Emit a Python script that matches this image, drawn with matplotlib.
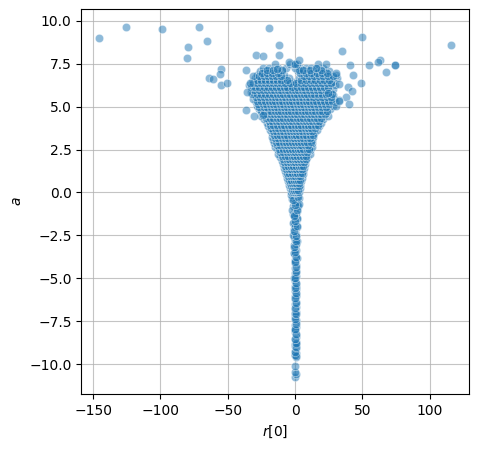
import matplotlib
matplotlib.use("Agg")
import matplotlib.pyplot as plt
import numpy as np

# ---- data ----
# sparse outliers
out_x = [-145.4, -125.3, -98.6, -71.1, -65.2, -79.5, -80.2, -19.1, -11.7, 50.0, 116.1,
         34.9, -28.7, -23.5, -12.1, -13.1, -4.2, -0.2, 2.7, 15.4, 43.3, 55.2, 63.2,
         74.5, 74.0, 67.9, 49.3, 39.4, 42.6, 37.9, 40.1, 30.7, 32.9, -55.0, -55.5,
         -63.9, -60.7, -54.8, -50.3, -36.2, -35.4, -36.2, -30.2, -23.8, -33.4, 40.9,
         30.5, 32.7, 24.8, 32.7, 61.4]
out_y = [8.98, 9.62, 9.50, 9.62, 8.80, 8.45, 7.81, 9.56, 8.57, 9.03, 8.57,
         8.22, 7.99, 7.95, 7.99, 7.17, 7.61, 7.48, 7.69, 7.23, 6.82, 7.40, 7.71,
         7.40, 7.42, 7.00, 6.37, 6.12, 5.91, 5.58, 5.13, 5.02, 5.38, 7.19, 6.90,
         6.65, 6.62, 6.24, 6.37, 7.11, 5.83, 4.78, 4.43, 4.51, 6.35, 7.42,
         6.94, 6.33, 5.77, 5.33, 7.60]

# the narrow stem below zero
stem_y = [-10.72, -10.58, -10.45, -10.10, -9.60, -9.46, -9.35, -9.20, -9.05, -8.95,
          -8.82, -8.68, -8.55, -8.43, -8.30, -8.15, -8.00, -7.85, -7.70, -7.55,
          -7.40, -7.25, -7.10, -6.95, -6.80, -6.65, -6.50, -6.35, -6.20, -6.05,
          -5.90, -5.75, -5.60, -5.45, -5.30, -5.15, -5.00, -4.85, -4.70, -4.55,
          -4.40, -4.25, -4.10, -3.95, -3.80, -3.65, -3.50, -3.35, -3.20, -3.05,
          -2.90, -2.75, -2.60, -2.45, -2.30, -2.15, -2.00, -1.85, -1.70, -1.55,
          -1.40, -1.25, -1.10, -0.95, -0.80, -0.65, -0.50, -0.35, -0.20,
          -1.80, -1.50, -1.00, -0.80, -0.40, -0.30, -2.50, -2.80, -3.50, -3.80,
          -5.00, -5.50, -8.00, -8.82, -9.46, -7.00, -6.00, -4.00, -3.00, -2.00,
          -1.20, -0.60, -0.10, -0.15, -0.70, -1.30,
          -9.52, -9.28, -9.00, -8.75, -8.50, -8.25, -7.95, -7.65, -7.35, -7.05,
          -6.75, -6.45, -6.15, -5.85, -5.55, -5.25, -4.95, -4.65, -4.35, -4.05,
          -3.75, -3.45, -3.15, -2.85, -2.55, -2.25, -1.95, -1.65, -1.35, -1.05,
          -0.75, -0.45, -0.25, -0.05]
stem_x = [0.3, 0.4, 0.3, 0.2, 0.4, 0.3, 0.6, 0.1, 0.5, 0.3,
          0.2, 0.5, 0.0, 0.4, 0.6, 0.2, 0.3, 0.5, 0.1, 0.4,
          0.6, 0.2, 0.3, 0.5, 0.0, 0.4, 0.2, 0.6, 0.3, 0.1,
          0.5, 0.2, 0.4, 0.0, 0.6, 0.3, 0.2, 0.5, 0.1, 0.4,
          -0.2, 0.7, 0.3, -0.3, 0.8, 0.1, -0.4, 0.9, 0.2, -0.5,
          1.0, 0.0, -0.6, 1.1, 0.2, -0.8, 1.2, 0.0, -1.0, 1.3,
          0.3, -1.2, 1.5, -0.2, -1.4, 1.6, 0.4, -1.6, 1.8,
          -1.5, 1.8, -2.0, 2.2, -2.5, 2.6, -1.2, 1.4, -1.0, 1.2,
          -0.8, 1.0, 0.3, 0.4, 0.3, 0.3, 0.4, 0.2, 0.5, 0.3,
          0.5, -0.3, 0.6, -2.8, 2.9, -0.5,
          0.6, 0.1, 0.4, 0.7, 0.2, 0.5, 0.0, 0.6, 0.3, 0.8,
          0.2, 0.5, -0.1, 0.7, 0.3, 0.6, 0.0, 0.8, 0.4, -0.3,
          1.0, 0.2, -0.7, 1.1, 0.4, -0.9, 1.3, 0.1, -1.1, 1.5,
          0.2, -1.5, 1.9, 0.0]

# the dense funnel above zero: one row of x values per level of a
core_levels = [0.05, 0.25, 0.45, 0.65, 0.85, 1.05, 1.25, 1.45, 1.65, 1.85,
               2.05, 2.25, 2.45, 2.65, 2.85, 3.05, 3.25, 3.45, 3.65, 3.85,
               4.05, 4.25, 4.45, 4.65, 4.85, 5.05, 5.25, 5.45, 5.65, 5.85,
               6.05, 6.25, 6.45, 6.65, 6.85, 7.05, 7.25, 7.45]
core_rows = [
    [-3, -1.5, 0, 1.2, 2.8],
    [-3.8, -2, -0.5, 1, 2.5, 4],
    [-4.5, -2.8, -1, 0.5, 2, 3.8],
    [-5.5, -3.5, -1.8, 0, 1.5, 3, 4.8],
    [-6, -4, -2.2, -0.5, 1.2, 2.8, 5],
    [-7, -5, -3, -1, 0.8, 2.5, 4.3, 5.8],
    [-7.5, -5.5, -3.5, -1.5, 0.5, 2.2, 4, 6],
    [-8.2, -6, -4, -2, 0, 2, 4, 6.5],
    [-8.8, -6.5, -4.5, -2.5, -0.5, 1.5, 3.5, 5.5, 7.2],
    [-9.5, -7, -5, -3, -1, 1, 3, 5, 7.5],
    [-11, -8.5, -6, -4, -2, 0, 2, 4, 6.5, 9],
    [-12.5, -10, -7.5, -5, -3, -1, 1, 3, 5.5, 8, 10.8],
    [-13, -10.5, -8, -5.5, -3.5, -1.5, 0.5, 2.5, 4.5, 7, 9.5, 11.5],
    [-14.9, -12, -9.5, -7, -4.5, -2.5, -0.5, 1.5, 3.5, 6, 8.5, 11, 12.3],
    [-15.5, -13, -10.5, -8, -5.5, -3, -1, 1, 3, 5.5, 8, 10.5, 12.4],
    [-16, -13.5, -11, -8.5, -6, -3.5, -1.5, 0.5, 2.5, 5, 7.5, 10, 12.8],
    [-17, -14.5, -12, -9, -6.5, -4, -2, 0, 2, 4.5, 7, 9.5, 12, 13.5],
    [-17.3, -15, -12.5, -10, -7.5, -5, -2.5, 0, 2.5, 5, 7.5, 10, 12.5, 14],
    [-18.5, -16, -13.5, -11, -8.5, -6, -3.5, -1, 1.5, 4, 6.5, 9, 11.5, 14, 16],
    [-19.8, -17, -14.5, -12, -9.5, -7, -4.5, -2, 0.5, 3, 5.5, 8, 10.5, 13, 15.5, 18],
    [-21, -18.5, -16, -13.5, -11, -8.5, -6, -3.5, -1, 1.5, 4, 6.5, 9, 11.5, 14, 16.5, 19],
    [-23, -20, -17.5, -15, -12.5, -10, -7.5, -5, -2.5, 0, 2.5, 5, 7.5, 10, 12.5, 15, 18, 21],
    [-25.5, -22.5, -20, -17.5, -15, -12.5, -10, -7.5, -5, -2.5, 0, 2.5, 5, 7.5, 10,
     12.5, 15, 17.5, 20.5, 24.8],
    [-24.5, -22, -19.5, -17, -14.5, -12, -9, -6.5, -4, -1.5, 1, 3.5, 6, 8.5, 11,
     13.5, 16, 18.5, 21, 23],
    [-27, -24, -21, -18.5, -16, -13.5, -11, -8.5, -6, -3.5, -1, 1.5, 4, 6.5, 9,
     11.5, 14, 16.5, 19, 22, 26],
    [-28.5, -25.5, -22.5, -20, -17.5, -15, -12.5, -10, -7.5, -5, -2.5, 0, 2.5, 5,
     7.5, 10, 12.5, 15, 18, 21, 24, 28],
    [-29, -26, -23, -20.5, -18, -15.5, -13, -10.5, -8, -5.5, -3, -0.5, 2, 4.5, 7,
     9.5, 12, 14.5, 17, 20, 23, 26, 30],
    [-31, -27.5, -24.5, -21.5, -19, -16.5, -14, -11.5, -9, -6.5, -4, -1.5, 1, 3.5,
     6, 8.5, 11, 13.5, 16, 19, 22, 25.5, 29],
    [-30, -27, -24, -21, -18, -15.5, -13, -10.5, -8, -5.5, -3, -0.5, 2, 4.5, 7,
     9.5, 12.5, 15.5, 18.5, 22, 24.8, 28],
    [-33, -29, -26, -23, -20, -17, -14, -11.5, -9, -6.5, -4, -1.5, 1, 3.5, 6, 9,
     12, 15, 18, 21, 26],
    [-31.5, -28, -25, -22, -19, -16, -13, -10, -7.5, -5, -2.5, 0, 2.5, 5, 8, 11,
     14, 17, 20, 23.5, 28],
    [-34, -30, -27, -24, -21, -18, -15, -12, -9, -6, -3, 0.5, 3.5, 6.5, 10, 13,
     16, 19, 22.5, 26, 30],
    [-32, -29, -26, -23, -20, -17, -14, -11, -8, -5, -1.5, 2, 5, 8, 11.5, 15, 18,
     21, 24, 28],
    [-30, -27, -24, -21, -18, -15, -12, -8.5, -4.5, 3, 6.5, 10, 13.5, 17, 20,
     23.5, 27, 31],
    [-28, -25, -22, -19, -16, -12.5, -8, 5, 8.5, 12, 15.5, 19, 22, 26, 30.5],
    [-26, -22, -18.5, -15, -10, 2, 6.5, 10, 14, 18, 22, 25],
    [-24, -19, -13, -7, 0, 4, 8, 12, 16, 21],
    [-14.6, -4, -1, 1.5, 17.1, 22.8],
]

# second, offset layer of the funnel (makes the core denser and less regular)
core2_levels = [0.15, 0.35, 0.55, 0.75, 0.95, 1.15, 1.35, 1.55, 1.75, 1.95,
                2.15, 2.35, 2.55, 2.75, 2.95, 3.15, 3.35, 3.55, 3.75, 3.95,
                4.15, 4.35, 4.55, 4.75, 4.95, 5.15, 5.35, 5.55, 5.75, 5.95,
                6.15, 6.35, 6.55, 6.75, 6.95, 7.15]
core2_rows = [
    [-2.3, -0.7, 0.6, 2.1],
    [-3.1, -1.2, 0.2, 1.7, 3.3],
    [-3.9, -2.1, -0.4, 1.1, 2.6],
    [-4.6, -2.7, -1.1, 0.7, 2.2, 3.9],
    [-5.2, -3.3, -1.6, 0.1, 1.9, 3.6],
    [-6.1, -4.2, -2.3, -0.2, 1.6, 3.4, 5.1],
    [-6.6, -4.7, -2.8, -0.9, 1.1, 3.1, 4.9],
    [-7.3, -5.1, -3.2, -1.2, 0.9, 2.8, 4.7, 6.1],
    [-7.9, -5.7, -3.6, -1.7, 0.3, 2.4, 4.3, 6.4],
    [-8.7, -6.3, -4.1, -2.2, -0.3, 1.8, 3.9, 6.0, 8.1],
    [-9.6, -7.1, -4.9, -2.6, -0.6, 1.4, 3.6, 5.9, 8.4],
    [-11.2, -8.6, -6.2, -3.9, -1.8, 0.3, 2.2, 4.1, 6.6, 9.1],
    [-11.8, -9.1, -6.6, -4.4, -2.1, 0.1, 2.1, 4.0, 6.3, 8.7, 10.6],
    [-13.6, -10.9, -8.3, -6.1, -3.7, -1.6, 0.6, 2.6, 4.8, 7.2, 9.9],
    [-14.2, -11.6, -9.2, -6.8, -4.3, -2.1, 0.2, 2.1, 4.2, 6.7, 9.1, 11.6],
    [-15.1, -12.3, -9.7, -7.2, -4.9, -2.6, -0.4, 1.6, 3.7, 6.1, 8.6, 11.2],
    [-15.8, -13.1, -10.8, -8.1, -5.6, -3.1, -0.9, 1.1, 3.3, 5.8, 8.2, 10.9, 13.1],
    [-16.4, -13.9, -11.4, -8.9, -6.3, -3.9, -1.7, 0.6, 2.9, 5.3, 7.9, 10.6, 12.9],
    [-17.6, -14.8, -12.3, -9.8, -7.1, -4.6, -2.3, 0.1, 2.4, 4.8, 7.3, 9.7, 12.2, 14.6],
    [-18.9, -16.2, -13.3, -10.7, -8.1, -5.3, -2.9, -0.3, 2.1, 4.6, 7.1, 9.6, 12.1,
     14.8, 17.1],
    [-19.7, -16.9, -14.2, -11.8, -9.2, -6.8, -4.2, -1.9, 0.6, 3.1, 5.6, 8.1, 10.4,
     12.9, 15.6, 17.8],
    [-21.6, -18.6, -16.1, -13.4, -11.1, -8.6, -6.1, -3.6, -1.2, 1.3, 3.8, 6.3, 8.8,
     11.3, 13.9, 16.6, 19.4],
    [-23.4, -20.8, -18.2, -15.9, -13.1, -10.8, -8.2, -5.8, -3.1, -0.6, 1.8, 4.2,
     6.8, 9.3, 11.8, 14.2, 16.9, 19.6, 22.1],
    [-25.6, -22.9, -20.1, -17.7, -15.2, -12.8, -10.2, -7.6, -5.1, -2.7, -0.2, 2.3,
     4.9, 7.4, 9.9, 12.4, 15.1, 17.6, 20.2, 24.1],
    [-26.4, -23.2, -20.7, -18.1, -15.8, -13.2, -10.7, -8.2, -5.7, -3.2, -0.6, 1.9,
     4.3, 6.8, 9.4, 11.9, 14.3, 16.9, 19.8, 23.1],
    [-27.3, -24.1, -21.6, -18.9, -16.4, -13.8, -11.3, -8.8, -6.2, -3.8, -1.3, 1.2,
     3.6, 6.1, 8.7, 11.2, 13.6, 16.2, 19.1, 22.4, 25.6],
    [-28.1, -25.2, -22.1, -19.6, -17.1, -14.6, -12.1, -9.6, -6.9, -4.4, -1.9, 0.6,
     3.1, 5.6, 8.1, 10.6, 13.2, 15.8, 18.6, 21.4, 24.6, 27.8],
    [-29.2, -26.1, -23.1, -20.2, -17.4, -14.9, -12.3, -9.8, -7.2, -4.8, -2.3, 0.3,
     2.8, 5.3, 7.9, 10.4, 13.1, 16.8, 20.1, 23.4, 26.7],
    [-31.6, -28.4, -25.3, -22.4, -19.3, -16.2, -13.6, -11.1, -8.6, -6.1, -3.6, -1.1,
     1.6, 4.1, 6.6, 9.2, 11.8, 14.3, 17.1, 20.3, 23.2, 27.4],
    [-30.2, -27.1, -24.1, -21.1, -18.2, -15.3, -12.6, -10.1, -7.6, -5.1, -2.6, -0.1,
     2.4, 4.9, 7.4, 10.2, 13.4, 16.4, 19.6, 22.8],
    [-32.8, -29.4, -26.4, -23.4, -20.4, -17.4, -14.4, -11.4, -8.4, -5.6, -2.1, 1.3,
     4.1, 6.9, 9.6, 12.6, 15.6, 18.6, 21.7, 24.8],
    [-31.1, -28.2, -25.2, -22.2, -19.2, -16.2, -13.1, -10.1, -7.1, -3.9, 1.1, 4.3,
     7.4, 10.8, 14.1, 17.3, 20.4, 23.6, 27.1],
    [-28.6, -25.6, -22.6, -19.6, -16.6, -13.6, -10.1, -6.3, 4.6, 8.1, 11.6, 15.1,
     18.4, 21.8, 25.3],
    [-31.4, -26.4, -23.3, -20.4, -17.3, -14.1, -10.6, 6.8, 10.3, 13.8, 17.6, 21.1,
     24.6, 28.4],
    [-24.2, -20.6, -16.8, -12.7, 3.8, 8.3, 11.9, 16.2, 20.3, 24.1],
    [-20.6, -16.1, -9.6, 2.6, 6.1, 11.1, 19.4],
]

x_ticks = [-150, -100, -50, 0, 50, 100]
y_ticks = [-10.0, -7.5, -5.0, -2.5, 0.0, 2.5, 5.0, 7.5, 10.0]

# ---- assemble ----
core_x, core_y = [], []
for levels, rows in ((core_levels, core_rows), (core2_levels, core2_rows)):
    for lvl, row in zip(levels, rows):
        core_x.extend(row)
        core_y.extend([lvl] * len(row))

xs = np.array(stem_x + core_x + out_x, dtype=float)
ys = np.array(stem_y + core_y + out_y, dtype=float)

fig = plt.figure(figsize=(4.78, 4.50), dpi=100)
ax = fig.add_axes([81.3 / 478, 1 - 394 / 450, (469.3 - 81.3) / 478, (394 - 9.3) / 450])
ax.set_axisbelow(True)
ax.grid(True, color="#b0b0b0", linewidth=0.8, alpha=0.75)
ax.scatter(xs, ys, s=36, c="#1f77b4", alpha=0.5, edgecolors="white", linewidths=0.5)
ax.set_xlim(-158.8, 129.5)
ax.set_ylim(-11.73, 10.66)
ax.set_xticks(x_ticks)
ax.set_yticks(y_ticks)
ax.set_xlabel(r"$r[0]$")
ax.set_ylabel(r"$a$")
fig.savefig("out.png", dpi=100)
